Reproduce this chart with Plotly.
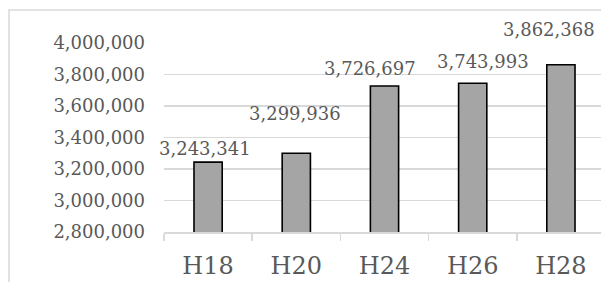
import plotly.graph_objects as go

categories = ["H18", "H20", "H24", "H26", "H28"]
values = [3243341, 3299936, 3726697, 3743993, 3862368]
y_ticks = [2800000, 3000000, 3200000, 3400000, 3600000, 3800000, 4000000]

# per-label pixel offsets (labels were hand-placed in the original)
label_dx = [-3.5, -1, -15, 10.5, -11.5]
label_dy = [14, 40, 18, 22, 35]

FONT = "DejaVu Serif"
TXT = "#595959"
GRID = "#d9d9d9"

fig = go.Figure()
fig.add_trace(go.Bar(
    x=categories, y=values, width=0.32,
    marker=dict(color="#a5a5a5", line=dict(color="#000000", width=1.6)),
    hoverinfo="skip",
))

for c, v, dx, dy in zip(categories, values, label_dx, label_dy):
    fig.add_annotation(x=c, y=v, text=f"{v:,}", showarrow=False,
                       xshift=dx, yshift=dy, yanchor="middle",
                       font=dict(family=FONT, size=18, color=TXT))

# chart-area border (right and bottom edges lie outside the view)
fig.add_shape(type="rect", xref="paper", yref="paper",
              x0=-0.3547, x1=1.08, y0=-0.5, y1=1.1746,
              line=dict(color=GRID, width=1.5), layer="below")

fig.update_layout(
    width=601, height=282,
    margin=dict(l=164, r=0, t=43, b=50, autoexpand=False),
    paper_bgcolor="white", plot_bgcolor="white",
    showlegend=False, bargap=0,
    font=dict(family=FONT, color=TXT),
)
fig.update_xaxes(
    type="category", range=[-0.5, 4.4545],
    tickson="boundaries", ticks="outside", ticklen=7, tickcolor=GRID, tickwidth=1.5,
    showline=True, linecolor=GRID, linewidth=1.5,
    showgrid=False, tickfont=dict(family=FONT, size=24, color=TXT),
    ticklabelstandoff=12,
)
fig.update_yaxes(
    range=[2800000, 4000000], tickvals=y_ticks,
    ticktext=[f"{t:,}" for t in y_ticks],
    showgrid=True, gridcolor=GRID, gridwidth=1.5,
    zeroline=False, showline=False, ticks="",
    tickfont=dict(family=FONT, size=18, color=TXT),
    ticklabelstandoff=18,
)

fig.write_html("out.html", config={"displayModeBar": False, "staticPlot": True},
               post_script="document.body.style.margin='0';document.body.style.overflow='hidden';")
